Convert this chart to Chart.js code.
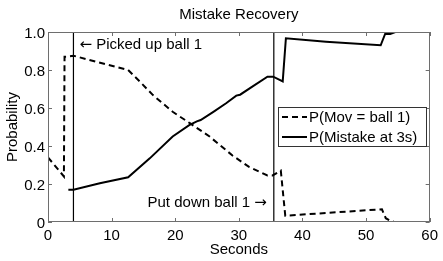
<!DOCTYPE html>
<html>
<head>
<meta charset="utf-8">
<script src="https://cdn.jsdelivr.net/npm/chart.js@4/dist/chart.umd.min.js"></script>
<style>
  html, body { margin: 0; padding: 0; background: #fff; }
  #wrap { width: 443px; height: 261px; }
</style>
</head>
<body>
<div id="wrap"><canvas id="c" width="443" height="261"></canvas></div>
<script>
// ---- data ----
const chartTitle = 'Mistake Recovery';
const xLabel = 'Seconds';
const yLabel = 'Probability';
const seriesLabels = ['P(Mov = ball 1)', 'P(Mistake at 3s)'];

const movTimes  = [0, 2.5, 2.6, 3.0, 4.0, 8, 12.6, 14.4, 16.5, 19.6, 22.3, 25.4, 29, 31.6, 34.5, 35.3, 36.6, 37.3, 52.5, 53.1, 53.8, 54.4];
const movValues = [0.34, 0.24, 0.87, 0.87, 0.875, 0.84, 0.80, 0.74, 0.668, 0.58, 0.52, 0.45, 0.35, 0.29, 0.245, 0.245, 0.27, 0.033, 0.067, 0.02, 0.007, 0.0];

const mistakeTimes  = [3.2, 4.0, 8.15, 12.6, 16.0, 19.6, 22.2, 23.4, 24.0, 26, 28, 29.6, 30.2, 32, 34.5, 35.4, 36.9, 37.4, 43.7, 52.3, 53.0, 53.8, 54.6];
const mistakeValues = [0.17, 0.17, 0.204, 0.235, 0.335, 0.45, 0.51, 0.53, 0.537, 0.58, 0.625, 0.665, 0.67, 0.71, 0.765, 0.765, 0.74, 0.967, 0.949, 0.93, 0.99, 0.99, 1.0];

const markerTimes = [4, 35.5];
const markerTexts = ['\u2190 Picked up ball 1', 'Put down ball 1 \u2192'];
const markerTextValues = [0.93, 0.1];

const xTicks = [0, 10, 20, 30, 40, 50, 60];
const yTicks = [0, 0.2, 0.4, 0.6, 0.8, 1.0];
const yTickLabels = ['0', '0.2', '0.4', '0.6', '0.8', '1.0'];

// ---- chart ----
const FONT = "'Liberation Sans', Arial, Helvetica, sans-serif";
const ARROW_FONT = "'DejaVu Sans', sans-serif";
const toXY = (ts, vs) => ts.map((t, i) => ({ x: t, y: vs[i] }));

const datasets = [
  {
    label: seriesLabels[0],
    data: toXY(movTimes, movValues),
    borderColor: '#000', borderWidth: 2, borderDash: [6, 4],
    pointRadius: 0, tension: 0, fill: false
  },
  {
    label: seriesLabels[1],
    data: toXY(mistakeTimes, mistakeValues),
    borderColor: '#000', borderWidth: 2,
    pointRadius: 0, tension: 0, fill: false
  }
];
markerTimes.forEach(t => datasets.push({
  label: 'marker', isMarker: true,
  data: [{ x: t, y: yTicks[0] }, { x: t, y: yTicks[yTicks.length - 1] }],
  borderColor: '#000', borderWidth: 1.2, pointRadius: 0, fill: false
}));

// draw text where arrow glyphs use a font with wide arrows
function drawMixed(ctx, text, x, y, align) {
  const parts = text.split(/([\u2190\u2192])/).filter(p => p.length);
  const fontFor = p => (p === '\u2190' || p === '\u2192') ? '15px ' + ARROW_FONT : '15px ' + FONT;
  let total = 0;
  parts.forEach(p => { ctx.font = fontFor(p); total += ctx.measureText(p).width; });
  let cx = align === 'right' ? x - total : x;
  ctx.textAlign = 'left';
  parts.forEach(p => {
    ctx.font = fontFor(p);
    ctx.fillText(p, cx, y);
    cx += ctx.measureText(p).width;
  });
}

const framePlugin = {
  id: 'frame',
  afterDatasetsDraw(chart) {
    const { ctx, chartArea: a, scales } = chart;
    ctx.save();
    // frame
    ctx.strokeStyle = '#6e6e6e';
    ctx.lineWidth = 1;
    ctx.strokeRect(Math.round(a.left) + 0.5, Math.round(a.top) + 0.5,
                   Math.round(a.right - a.left) - 1, Math.round(a.bottom - a.top) - 1);
    // inward ticks
    const tl = 4;
    ctx.beginPath();
    xTicks.forEach(v => {
      const px = Math.round(scales.x.getPixelForValue(v)) + 0.5;
      ctx.moveTo(px, a.bottom); ctx.lineTo(px, a.bottom - tl);
      ctx.moveTo(px, a.top); ctx.lineTo(px, a.top + tl);
    });
    yTicks.forEach(v => {
      const py = Math.round(scales.y.getPixelForValue(v)) + 0.5;
      ctx.moveTo(a.left, py); ctx.lineTo(a.left + tl, py);
      ctx.moveTo(a.right, py); ctx.lineTo(a.right - tl, py);
    });
    ctx.stroke();

    // title
    ctx.fillStyle = '#000';
    ctx.font = '15px ' + FONT;
    ctx.textAlign = 'center';
    ctx.textBaseline = 'middle';
    ctx.fillText(chartTitle, (a.left + a.right) / 2, 15);

    // marker annotations
    markerTimes.forEach((t, i) => {
      const px = scales.x.getPixelForValue(t);
      const py = scales.y.getPixelForValue(markerTextValues[i]);
      if (i === 0) drawMixed(ctx, markerTexts[i], px + 6, py, 'left');
      else drawMixed(ctx, markerTexts[i], px - 7, py, 'right');
    });

    // legend
    const bw = 148, bh = 39;
    const bx = Math.round(a.right) - 4 - bw, by = Math.round(a.top) + 75;
    ctx.fillStyle = '#fff';
    ctx.fillRect(bx, by, bw, bh);
    ctx.strokeStyle = '#333';
    ctx.lineWidth = 1;
    ctx.strokeRect(bx + 0.5, by + 0.5, bw, bh);
    ctx.font = '15px ' + FONT;
    const main = chart.data.datasets.filter(d => !d.isMarker);
    main.forEach((d, i) => {
      const ly = by + 10 + i * 20;
      ctx.beginPath();
      ctx.setLineDash(d.borderDash || []);
      ctx.strokeStyle = '#000';
      ctx.lineWidth = 2;
      ctx.moveTo(bx + 4, ly); ctx.lineTo(bx + 29, ly);
      ctx.stroke();
      ctx.setLineDash([]);
      ctx.fillStyle = '#000';
      ctx.textAlign = 'left';
      ctx.fillText(d.label, bx + 31, ly + 1);
    });
    ctx.restore();
  }
};

new Chart(document.getElementById('c'), {
  type: 'line',
  data: { datasets },
  options: {
    responsive: false,
    animation: false,
    devicePixelRatio: 1,
    layout: { padding: { top: 32, right: 12, left: 0, bottom: 0 } },
    plugins: { legend: { display: false }, title: { display: false }, tooltip: { enabled: false } },
    scales: {
      x: {
        type: 'linear', min: 0, max: 60,
        afterBuildTicks: s => { s.ticks = xTicks.map(v => ({ value: v })); },
        afterFit: s => { s.height = 39; },
        grid: { display: false, drawTicks: false },
        border: { display: false },
        ticks: { color: '#000', font: { family: FONT, size: 15 }, padding: 5, maxRotation: 0 },
        title: { display: true, text: xLabel, color: '#000', font: { family: FONT, size: 15 }, padding: { top: 0, bottom: 2 } }
      },
      y: {
        type: 'linear', min: 0, max: 1,
        afterBuildTicks: s => { s.ticks = yTicks.map(v => ({ value: v })); },
        afterFit: s => { s.width = 48; },
        grid: { display: false, drawTicks: false },
        border: { display: false },
        ticks: { color: '#000', font: { family: FONT, size: 15 }, padding: 3, labelOffset: 2,
                 callback: (v) => yTickLabels[yTicks.findIndex(t => Math.abs(t - v) < 1e-9)] },
        title: { display: true, text: yLabel, color: '#000', font: { family: FONT, size: 15 }, padding: { top: 4, bottom: 0 } }
      }
    }
  },
  plugins: [framePlugin]
});
</script>
</body>
</html>
